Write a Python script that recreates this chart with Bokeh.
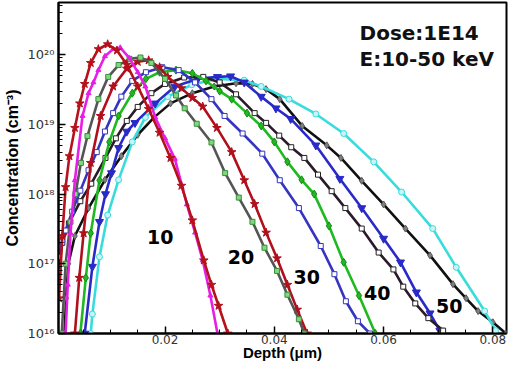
from bokeh.plotting import figure
from bokeh.models import FixedTicker, Label, PrintfTickFormatter, Range1d
from bokeh.embed import file_html
from bokeh.resources import INLINE

# ---- data (depth in um, concentration in cm^-3) ----
red10_d = [0.0006, 0.0012, 0.0018, 0.0025, 0.0035, 0.0044, 0.0053, 0.0064, 0.0078, 0.0095, 0.0112, 0.0130,
           0.0150, 0.0170, 0.0190, 0.0210, 0.0230, 0.0250, 0.0271, 0.0285, 0.0298, 0.0315]
red10_c = [3.2e16, 2.5e17, 1.26e18, 3.5e18, 8.9e18, 2.0e19, 3.8e19, 7.6e19, 1.2e20, 1.41e20, 1.15e20, 7.2e19,
           3.5e19, 1.66e19, 7.6e18, 3.3e18, 1.32e18, 4.2e17, 1.12e17, 5.0e16, 2.5e16, 1.0e16]

mag10_d = [0.0018, 0.0022, 0.0027, 0.0035, 0.0049, 0.0060, 0.0069, 0.0078, 0.0090, 0.0105, 0.0118, 0.0135,
           0.0150, 0.0164, 0.0182, 0.0200, 0.0218, 0.0240, 0.0255, 0.0269, 0.0283, 0.0296]
mag10_c = [1.0e16, 5.0e16, 2.75e17, 1.58e18, 1.32e19, 2.8e19, 4.0e19, 6.0e19, 9.5e19, 1.2e20, 1.26e20, 8.9e19,
           5.6e19, 3.5e19, 1.26e19, 6.3e18, 3.2e18, 7.1e17, 2.8e17, 1.12e17, 3.5e16, 1.0e16]

gray20_d = [0.0011, 0.0018, 0.0027, 0.0036, 0.0046, 0.0058, 0.0078, 0.0096, 0.0115, 0.0135, 0.0155, 0.0175,
            0.0200, 0.0220, 0.0236, 0.0258, 0.0285, 0.0310, 0.0335, 0.0360, 0.0382, 0.0405, 0.0424, 0.0445, 0.0455]
gray20_c = [1.0e16, 1.0e17, 4.0e17, 1.0e18, 2.8e18, 6.8e18, 2.3e19, 4.8e19, 7.1e19, 8.7e19, 9.1e19, 7.6e19,
            4.5e19, 2.6e19, 1.7e19, 1.02e19, 5.5e18, 2.0e18, 8.9e17, 4.0e17, 1.7e17, 7.9e16, 3.6e16, 1.6e16, 1.0e16]

red20_d = [0.0035, 0.0043, 0.0051, 0.0064, 0.0082, 0.0105, 0.0130, 0.0150, 0.0170, 0.0190, 0.0205, 0.0230,
           0.0250, 0.0269, 0.0295, 0.0322, 0.0345, 0.0364, 0.0385, 0.0405, 0.0424, 0.0442, 0.0460]
red20_c = [1.0e16, 6.3e16, 2.75e17, 2.8e18, 1.32e19, 3.5e19, 6.3e19, 7.9e19, 8.3e19, 6.6e19, 4.8e19, 3.3e19,
           2.4e19, 1.8e19, 8.9e18, 4.0e18, 1.58e18, 7.2e17, 2.8e17, 1.2e17, 5.0e16, 2.2e16, 1.0e16]

green30_d = [0.0045, 0.0055, 0.0064, 0.0080, 0.0098, 0.0115, 0.0140, 0.0165, 0.0190, 0.0220, 0.0250, 0.0275,
             0.0300, 0.0322, 0.0350, 0.0376, 0.0400, 0.0424, 0.0450, 0.0473, 0.0500, 0.0527, 0.0555, 0.0585]
green30_c = [1.0e16, 6.3e16, 2.75e17, 1.58e18, 5.6e18, 1.32e19, 2.8e19, 4.5e19, 5.6e19, 6.0e19, 5.4e19, 4.2e19,
             3.0e19, 2.3e19, 1.45e19, 9.5e18, 5.6e18, 2.9e18, 1.6e18, 1.0e18, 3.5e17, 1.05e17, 3.5e16, 1.0e16]

blue30_d = [0.0005, 0.0012, 0.0018, 0.0030, 0.0045, 0.0060, 0.0075, 0.0090, 0.0105, 0.0120, 0.0140, 0.0165,
            0.0195, 0.0225, 0.0255, 0.0285, 0.0309, 0.0342, 0.0378, 0.0410, 0.0445, 0.0485, 0.0510, 0.0531,
            0.0553, 0.0575]
blue30_c = [1.26e17, 2.2e17, 3.0e17, 5.6e17, 1.12e18, 2.2e18, 4.0e18, 7.9e18, 1.45e19, 2.5e19, 4.2e19, 5.6e19,
            6.6e19, 6.0e19, 4.0e19, 2.3e19, 1.32e19, 7.4e18, 3.8e18, 1.58e18, 6.3e17, 1.8e17, 7.1e16, 2.9e16,
            1.5e16, 1.0e16]

black40_d = [0.0005, 0.0012, 0.0024, 0.0045, 0.0065, 0.0091, 0.0110, 0.0130, 0.0150, 0.0175, 0.0200, 0.0235,
             0.0270, 0.0300, 0.0330, 0.0364, 0.0385, 0.0409, 0.0431, 0.0455, 0.0480, 0.0505, 0.0530, 0.0560,
             0.0591, 0.0618, 0.0636, 0.0658, 0.0682, 0.0709]
black40_c = [7.9e16, 2.0e17, 3.8e17, 7.9e17, 1.41e18, 3.3e18, 6.3e18, 1.12e19, 1.78e19, 2.8e19, 3.8e19, 4.7e19,
             4.8e19, 4.0e19, 2.7e19, 1.45e19, 1.05e19, 6.9e18, 4.7e18, 3.3e18, 1.9e18, 1.1e18, 6.3e17, 3.2e17,
             1.45e17, 8.3e16, 4.7e16, 2.7e16, 1.66e16, 1.1e16]

blue40_d = [0.0053, 0.0067, 0.0080, 0.0091, 0.0102, 0.0115, 0.0130, 0.0145, 0.0182, 0.0218, 0.0260, 0.0296,
            0.0320, 0.0345, 0.0376, 0.0403, 0.0430, 0.0476, 0.0520, 0.0560, 0.0600, 0.0631, 0.0660, 0.0685, 0.0703]
blue40_c = [1.0e16, 9.1e16, 4.0e17, 1.0e18, 2.0e18, 4.6e18, 7.9e18, 1.05e19, 2.0e19, 3.5e19, 4.5e19, 4.8e19,
            4.9e19, 4.0e19, 2.5e19, 1.7e19, 1.2e19, 5.0e18, 1.66e18, 6.3e17, 2.3e17, 1.05e17, 3.9e16, 1.95e16, 1.1e16]

black50_d = [0.0016, 0.0019, 0.0023, 0.0035, 0.0060, 0.0090, 0.0120, 0.0150, 0.0180, 0.0210, 0.0250, 0.0290,
             0.0330, 0.0360, 0.0385, 0.0410, 0.0451, 0.0496, 0.0522, 0.0560, 0.0600, 0.0640, 0.0685, 0.0727,
             0.0751, 0.0773, 0.0800, 0.0824]
black50_c = [1.0e16, 3.2e16, 1.0e17, 2.5e17, 6.3e17, 1.6e18, 3.5e18, 7.1e18, 1.26e19, 2.0e19, 2.8e19, 3.5e19,
             3.9e19, 3.8e19, 3.2e19, 2.3e19, 9.5e18, 5.0e18, 3.3e18, 1.55e18, 7.1e17, 3.2e17, 1.32e17, 5.1e16,
             3.2e16, 2.1e16, 1.45e16, 1.0e16]

cyan50_d = [0.0064, 0.0067, 0.0080, 0.0095, 0.0115, 0.0140, 0.0164, 0.0205, 0.0249, 0.0296, 0.0345, 0.0376,
            0.0427, 0.0476, 0.0527, 0.0582, 0.0633, 0.0690, 0.0733, 0.0785, 0.0805]
cyan50_c = [1.0e16, 1.9e16, 1.26e17, 5.0e17, 1.6e18, 5.6e18, 1.26e19, 2.5e19, 3.7e19, 4.5e19, 4.3e19, 3.5e19,
            2.3e19, 1.41e19, 7.4e18, 2.9e18, 1.07e18, 3.2e17, 8.9e16, 2.1e16, 1.1e16]

energy_labels = ["10", "20", "30", "40", "50"]
energy_label_x = [0.0167, 0.0315, 0.0435, 0.0564, 0.0696]
energy_label_y = [1.9e17, 1.0e17, 5.2e16, 3.0e16, 2.0e16]

x_ticks = [0.02, 0.04, 0.06, 0.08]
y_ticks = [1e16, 1e17, 1e18, 1e19, 1e20]
y_tick_labels = ["10\u00b9\u2076", "10\u00b9\u2077", "10\u00b9\u2078", "10\u00b9\u2079", "10\u00b2\u2070"]

# ---- figure ----
p = figure(width=508, height=363, y_axis_type="log",
           x_range=Range1d(0.0005, 0.0825), y_range=Range1d(1e16, 5.6e20),
           output_backend="svg", toolbar_location=None,
           min_border_left=55, min_border_right=2, min_border_top=2, min_border_bottom=0)
p.grid.visible = False
p.outline_line_color = "black"
p.outline_line_width = 2
p.background_fill_color = "white"
p.border_fill_color = "white"

series = [
    (black50_d, black50_c, "#111111", "diamond", 7, "#808080", "#555555"),
    (cyan50_d, cyan50_c, "#38dcdc", "circle", 6, "#c8f4f4", "#38dcdc"),
    (blue40_d, blue40_c, "#2a2ac8", "inverted_triangle", 8, "#2a2ac8", "#2a2ac8"),
    (black40_d, black40_c, "#2a1a2a", "square", 5, "white", "#222222"),
    (green30_d, green30_c, "#1fba1f", "diamond", 8, "#1fba1f", "#178a17"),
    (blue30_d, blue30_c, "#3535c0", "square", 5, "white", "#3535c0"),
    (red20_d, red20_c, "#b0101c", "star", 9, "#b0101c", "#b0101c"),
    (gray20_d, gray20_c, "#555555", "square", 5, "#7ed87e", "#3c8c3c"),
    (mag10_d, mag10_c, "#e61ee6", "triangle", 5, "#e61ee6", "#e61ee6"),
    (red10_d, red10_c, "#b5121b", "star", 9, "#b5121b", "#b5121b"),
]
for d, c, col, mk, sz, fill, mline in series:
    p.line(d, c, line_color=col, line_width=2.6, line_join="round")
    p.scatter(d, c, marker=mk, size=sz, fill_color=fill, line_color=mline, line_width=1)

# ---- axes ----
p.xaxis.ticker = FixedTicker(ticks=x_ticks, minor_ticks=[0.005 * i for i in range(1, 17)])
p.xaxis.formatter = PrintfTickFormatter(format="%.2f")
p.yaxis.ticker = FixedTicker(ticks=y_ticks, minor_ticks=[m * 10.0 ** e for e in range(16, 21) for m in range(2, 10)])
p.yaxis.major_label_overrides = {t: s for t, s in zip(y_ticks, y_tick_labels)}

for ax in (p.xaxis, p.yaxis):
    ax.axis_line_color = "black"
    ax.axis_line_width = 2
    ax.major_tick_in = 7
    ax.major_tick_out = 0
    ax.minor_tick_in = 4
    ax.minor_tick_out = 0
    ax.major_tick_line_color = "black"
    ax.minor_tick_line_color = "black"
    ax.major_tick_line_width = 1.5
    ax.major_label_text_font = "DejaVu Sans"
    ax.major_label_text_font_size = "13px"
    ax.major_label_text_color = "#333333"
    ax.axis_label_text_font = "Liberation Sans"
    ax.axis_label_text_font_style = "bold"
    ax.axis_label_text_font_size = "16px"
    ax.axis_label_text_color = "black"
p.xaxis.major_label_text_font_size = "12px"
p.xaxis.axis_label_text_font_size = "15px"
p.xaxis.major_label_standoff = 1
p.xaxis.axis_label_standoff = -3
p.yaxis.major_label_standoff = 4
p.yaxis.axis_label_standoff = 4
p.xaxis.axis_label = "Depth (\u03bcm)"
p.yaxis.axis_label = "Concentration (cm\u207b\u00b3)"

# ---- annotations ----
for t, x, y in zip(energy_labels, energy_label_x, energy_label_y):
    p.add_layout(Label(x=x, y=y, text=t, text_font="DejaVu Sans", text_font_style="bold",
                       text_font_size="19px", text_color="black"))
p.add_layout(Label(x=0.0556, y=1.36e20, text="Dose:1E14", text_font="DejaVu Sans", text_font_style="bold",
                   text_font_size="20px", text_color="#111111"))
p.add_layout(Label(x=0.0556, y=5.9e19, text="E:10-50 keV", text_font="DejaVu Sans", text_font_style="bold",
                   text_font_size="20px", text_color="#111111"))

open("out.html", "w").write(file_html(p, INLINE))
